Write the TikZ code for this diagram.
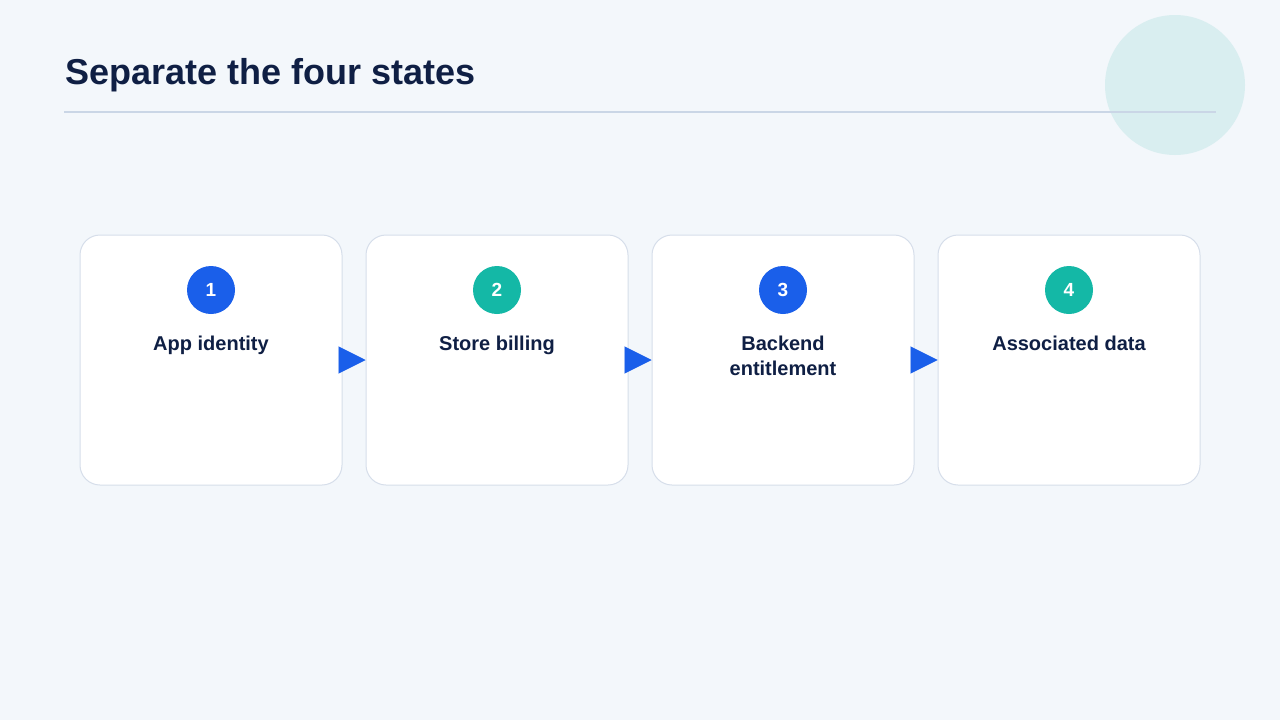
\documentclass[tikz,border=0pt]{standalone}
\usepackage{fontspec}
\setmainfont{Liberation Sans}
\usepackage{xcolor}
\usetikzlibrary{arrows.meta}

\definecolor{pagebg}{HTML}{F3F7FB}
\definecolor{navy}{HTML}{0F1F44}
\definecolor{rulecol}{HTML}{CAD6E6}
\definecolor{cardline}{HTML}{D6DEEA}
\definecolor{stepblue}{HTML}{1A5FEA}
\definecolor{stepteal}{HTML}{14B8A6}
\definecolor{blob}{HTML}{D9EEF0}

\begin{document}
\begin{tikzpicture}[x=1pt, y=-1pt,
  card/.style={rectangle, draw=cardline, line width=1pt, fill=white, rounded corners=20pt, minimum width=262pt, minimum height=250pt},
  num/.style={circle, inner sep=0pt, minimum size=48pt, text=white, font=\bfseries\fontsize{19}{21}\selectfont},
  lbl/.style={align=center, text=navy, font=\bfseries\fontsize{20}{25}\selectfont},
  flow/.style={draw=stepblue, line width=0.2pt, -{Triangle[length=27pt, width=27pt, fill=stepblue]}}]
\fill[pagebg] (0,0) rectangle (1280,720);
\useasboundingbox (0,0) rectangle (1280,720);
\fill[blob] (1175,85) circle (70);
\node[anchor=base west, inner sep=0pt, text=navy, font=\bfseries\fontsize{36}{40}\selectfont] (title) at (65,84) {Separate the four states};
\draw[rulecol, line width=1.2pt] (64,112) -- (1216,112);

% cards
\node[card] (c1) at (211,360) {};
\node[card] (c2) at (497,360) {};
\node[card] (c3) at (783,360) {};
\node[card] (c4) at (1069,360) {};

\node[num, fill=stepblue] (n1) at (211,290) {1};
\node[num, fill=stepteal] (n2) at (497,290) {2};
\node[num, fill=stepblue] (n3) at (783,290) {3};
\node[num, fill=stepteal] (n4) at (1069,290) {4};

\node[lbl, anchor=north] (l1) at (211,332) {App identity};
\node[lbl, anchor=north] (l2) at (497,332) {Store billing};
\node[lbl, anchor=north] (l3) at (783,332) {Backend\\entitlement};
\node[lbl, anchor=north] (l4) at (1069,332) {Associated data};

\draw[flow] (c1.east) -- (c2.west);
\draw[flow] (c2.east) -- (c3.west);
\draw[flow] (c3.east) -- (c4.west);
\end{tikzpicture}
\end{document}
